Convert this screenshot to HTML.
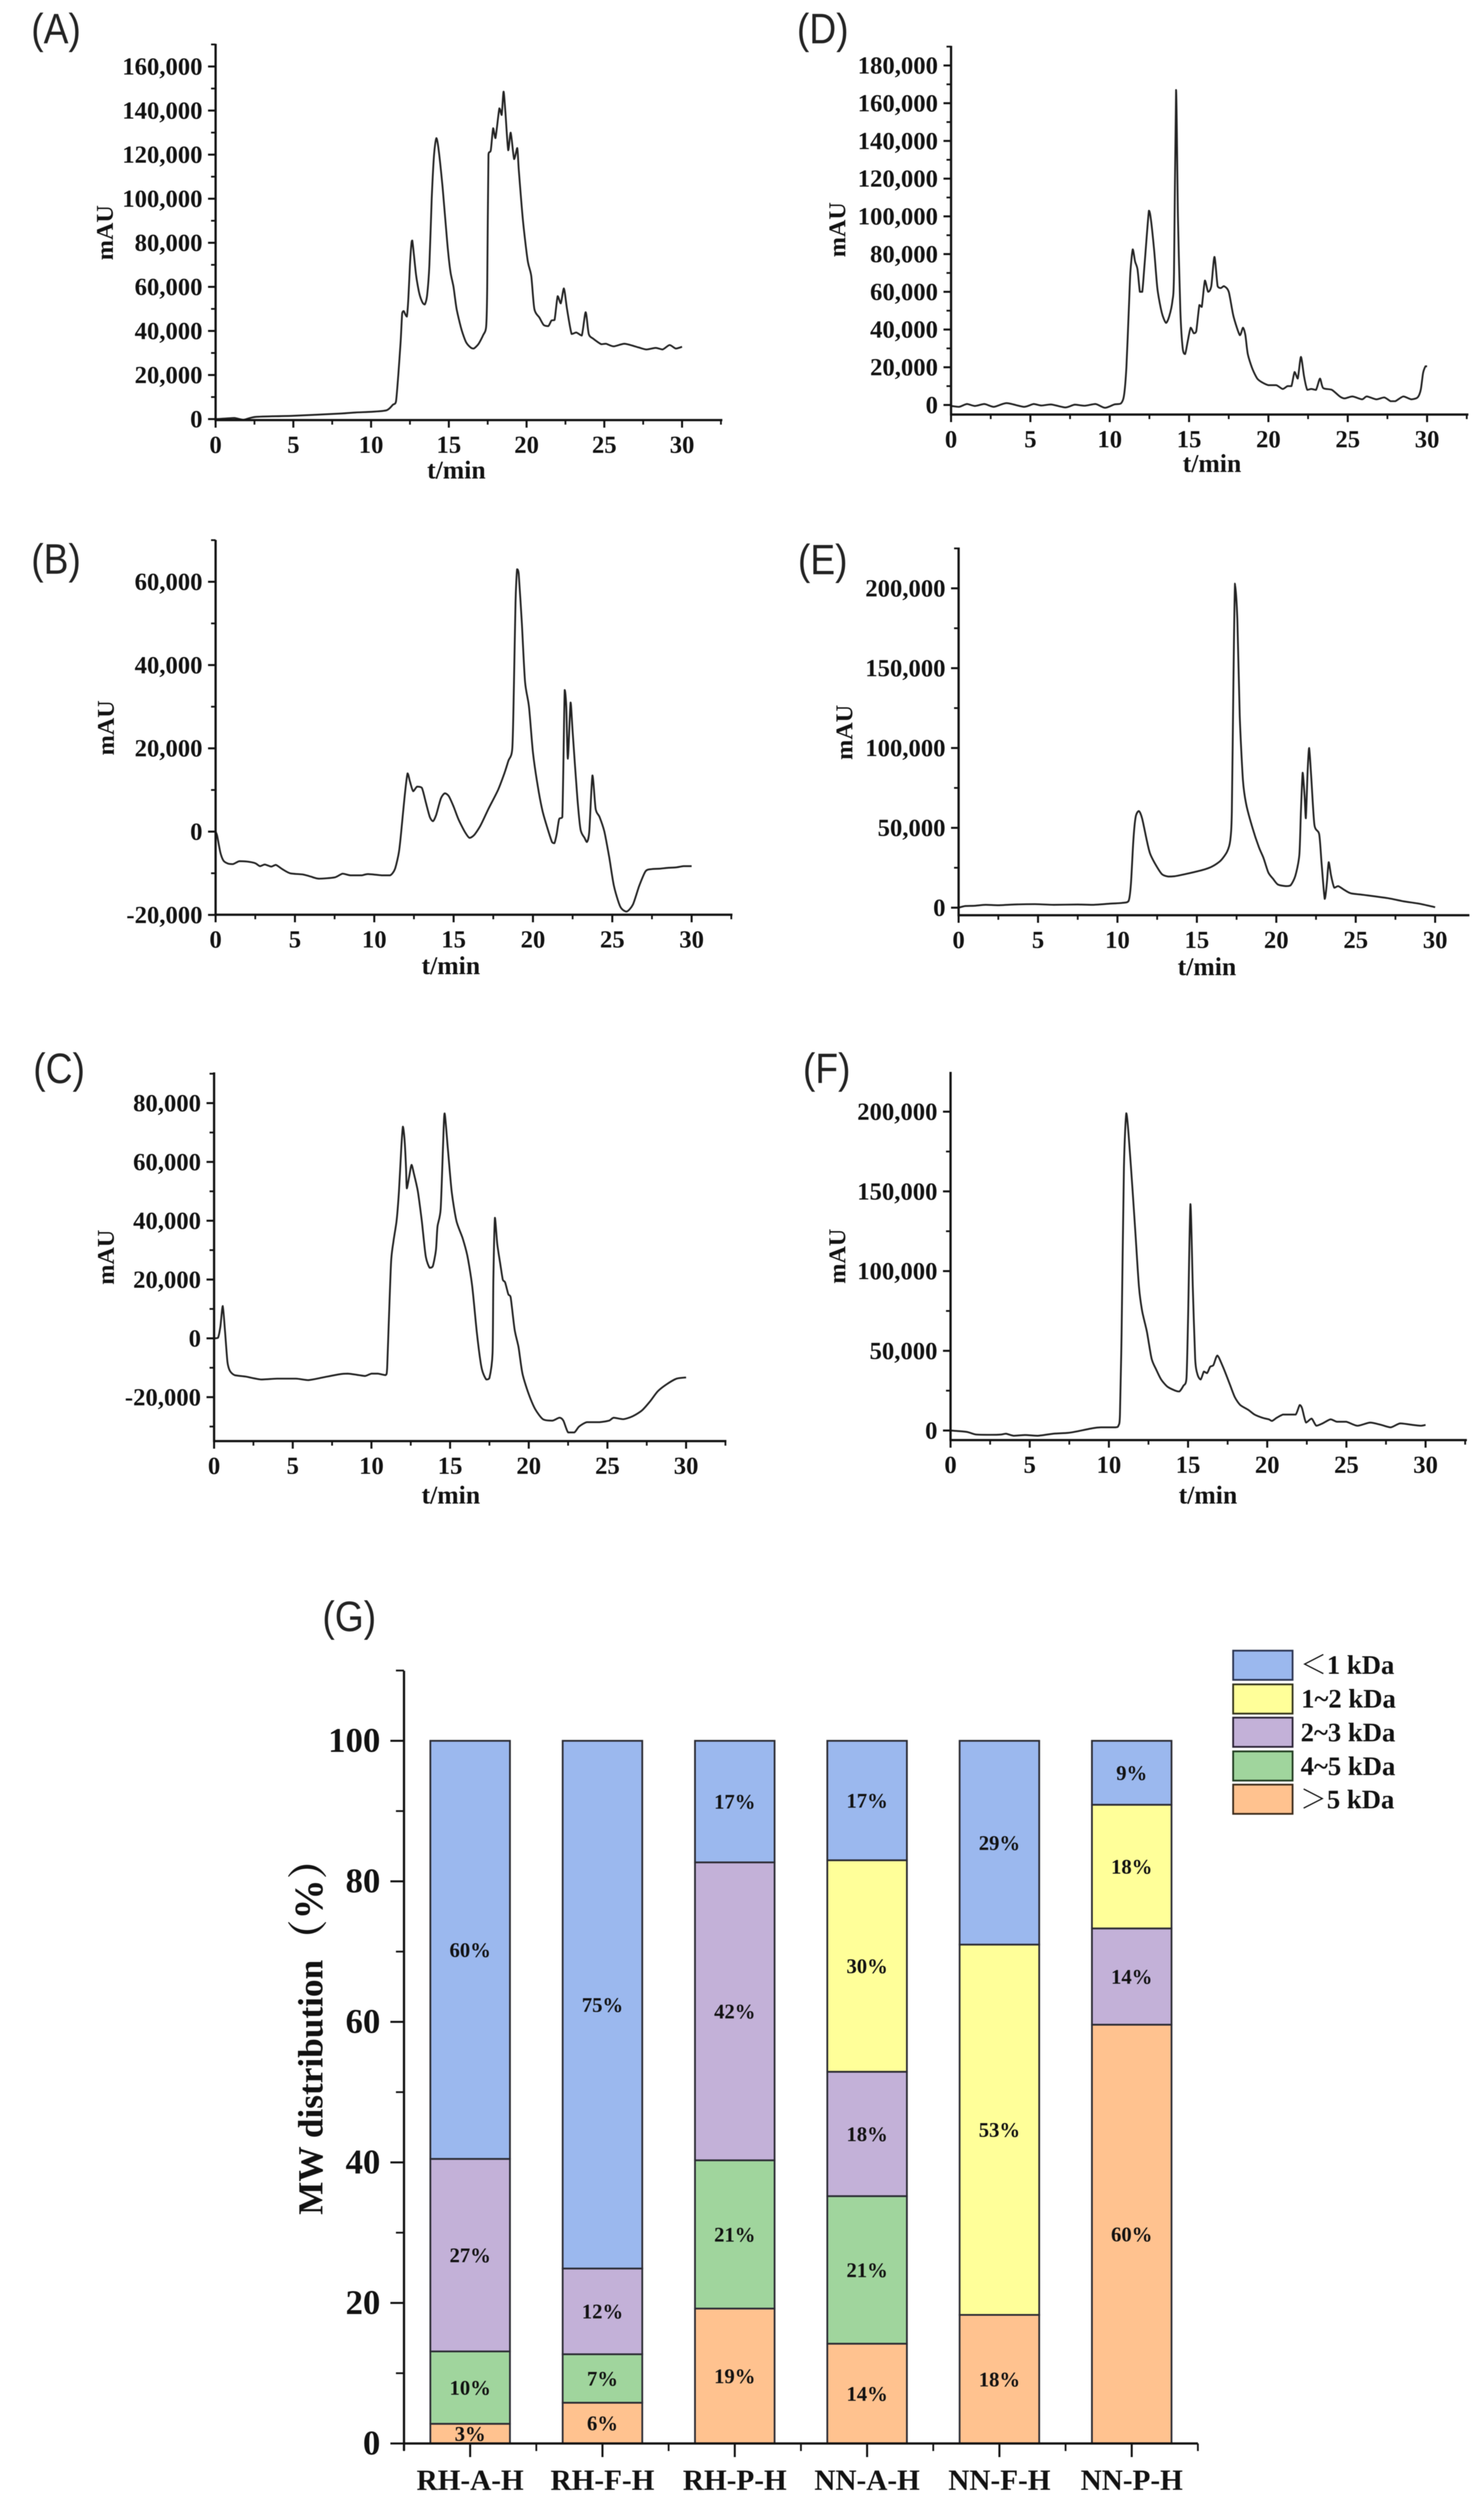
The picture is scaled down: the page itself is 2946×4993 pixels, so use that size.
<!DOCTYPE html>
<html lang="en">
<head>
<meta charset="utf-8">
<title>Chromatograms and MW distribution</title>
<style>
html,body{margin:0;padding:0;background:#fff;}
svg{display:block;}
text{font-family:"Liberation Serif","Noto Serif CJK SC",serif;font-weight:bold;fill:#111;}
.panel-letter{font-family:"Liberation Sans","Noto Sans CJK SC",sans-serif;font-weight:normal;font-size:84px;fill:#222;}
</style>
</head>
<body>
<svg id="figure" xmlns="http://www.w3.org/2000/svg" width="2946" height="4993" viewBox="0 0 2946 4993">
<rect x="0" y="0" width="2946" height="4993" fill="#fff"/>
<g id="root" style="filter:blur(0.8px)">
<text class="panel-letter" transform="translate(62,86) scale(0.88,1)">(A)</text>
<text class="panel-letter" transform="translate(1582,86) scale(0.88,1)">(D)</text>
<text class="panel-letter" transform="translate(62,1139) scale(0.88,1)">(B)</text>
<text class="panel-letter" transform="translate(1584,1140) scale(0.88,1)">(E)</text>
<text class="panel-letter" transform="translate(66,2150) scale(0.88,1)">(C)</text>
<text class="panel-letter" transform="translate(1594,2150) scale(0.88,1)">(F)</text>
<text class="panel-letter" transform="translate(640,3238) scale(0.88,1)">(G)</text>

<text x="906" y="950" font-size="51" text-anchor="middle">t/min</text>
<text x="2406" y="937" font-size="51" text-anchor="middle">t/min</text>
<text x="895" y="1934" font-size="51" text-anchor="middle">t/min</text>
<text x="2396" y="1936" font-size="51" text-anchor="middle">t/min</text>
<text x="895" y="2985" font-size="51" text-anchor="middle">t/min</text>
<text x="2398" y="2985" font-size="51" text-anchor="middle">t/min</text>

<text transform="translate(224,462) rotate(-90)" font-size="48" text-anchor="middle">mAU</text>
<text transform="translate(1678,456) rotate(-90)" font-size="48" text-anchor="middle">mAU</text>
<text transform="translate(226,1445) rotate(-90)" font-size="48" text-anchor="middle">mAU</text>
<text transform="translate(1692,1454) rotate(-90)" font-size="48" text-anchor="middle">mAU</text>
<text transform="translate(226,2496) rotate(-90)" font-size="48" text-anchor="middle">mAU</text>
<text transform="translate(1678,2494) rotate(-90)" font-size="48" text-anchor="middle">mAU</text>

<text transform="translate(640,4024) rotate(-90)" font-size="70" text-anchor="middle">MW distribution<tspan font-size="80">（%）</tspan></text>

<g>
<rect x="2448" y="3277" width="118" height="58" fill="#9BB8EE" stroke="#2a3350" stroke-width="3.5"/>
<text x="2581" y="3323" font-size="53">＜1 kDa</text>
<rect x="2448" y="3344" width="118" height="58" fill="#FFFF99" stroke="#33331a" stroke-width="3.5"/>
<text x="2583" y="3390" font-size="53">1~2 kDa</text>
<rect x="2448" y="3410" width="118" height="58" fill="#C3B1D8" stroke="#2a2235" stroke-width="3.5"/>
<text x="2582" y="3457" font-size="53">2~3 kDa</text>
<rect x="2448" y="3477" width="118" height="58" fill="#A0D59D" stroke="#1f3a1f" stroke-width="3.5"/>
<text x="2582" y="3524" font-size="53">4~5 kDa</text>
<rect x="2448" y="3543" width="118" height="58" fill="#FFC28F" stroke="#3a2a1a" stroke-width="3.5"/>
<text x="2581" y="3590" font-size="53">＞5 kDa</text>
</g>
</g>
</svg>
<script>
// Chromatogram data: retention time (min) and signal (thousands of mAU)
const panelATimes = [0,0.5,1.2,1.8,2.6,5,8,9,10,11,11.4,11.6,11.75,11.9,12,12.1,12.2,12.3,12.4,12.5,12.6,12.65,12.75,12.9,13.1,13.3,13.45,13.6,13.75,13.9,14.05,14.2,14.35,14.6,14.9,15.1,15.3,15.5,15.8,16.1,16.4,16.6,16.9,17.2,17.4,17.47,17.55,17.7,17.85,18,18.25,18.4,18.52,18.64,18.82,18.98,19.2,19.4,19.5,19.77,20.07,20.3,20.5,20.83,21.1,21.4,21.6,21.8,22,22.2,22.4,22.6,22.9,23.2,23.55,23.8,24,24.3,24.8,25.1,25.6,26.3,27.2,27.7,28.3,28.75,29.2,29.6,30];
const panelASignal = [0,0.2,0.5,-0.3,1,1.5,2.5,3,3.3,4,6.5,8,20,35,48,49,47.5,46.5,55,70,80,81,75,65,57,53,52,56,70,100,120,127.5,122,105,80,67,60,50,41,35,32.5,32,34,38,42,60,120,122,132,127.5,141,138,148.6,139,122,130,118,123,113,90,72,65,50,46,42.7,42.2,44.7,45,55.8,52.5,59.3,50,38.6,39.3,37.9,48.5,38.6,36.4,34,34.2,33,34.2,32.5,31.6,32.3,31.6,33.6,32,32.8];
const panelAYTicks = [0,20,40,60,80,100,120,140,160];

const panelDTimes = [0,0.5,1,1.5,2.1,2.7,3.5,4.6,5.2,5.7,6.3,7.2,7.8,8.4,9.1,9.7,10.3,10.7,10.9,11.05,11.2,11.3,11.45,11.6,11.75,11.9,12.05,12.2,12.47,12.6,12.8,13,13.2,13.35,13.55,13.75,13.95,14.05,14.18,14.3,14.45,14.6,14.75,14.9,15.1,15.3,15.45,15.65,15.8,16,16.2,16.4,16.6,16.8,17,17.2,17.5,17.8,18.2,18.4,18.55,18.7,19,19.3,19.6,20,20.5,20.9,21.2,21.45,21.65,21.85,22.05,22.25,22.45,22.7,23,23.25,23.45,24,24.5,24.8,25.3,25.9,26.2,26.8,27.3,27.7,28,28.5,29,29.4,29.6,29.75,29.9,30];
const panelDSignal = [-0.5,-1,0.5,-0.5,0.5,-1,1,-1,0.5,-0.3,0.3,-1.3,0.2,-0.4,0.5,-1.5,0.3,0.8,5,20,50,70,82.5,76,72,60,60,75,103,98,82,62,52,47,43.5,47,55,70,167,100,50,30,27,33,41,38,39,53,52,66,60,63,78.5,63,62,63,60,47,37,41,37,27,19,14,12,10.5,10.5,8.5,10,10,17.5,14,25.5,15,8,8.5,8,14,9,8,4.5,3.5,4.5,3,4.5,3,4,2,2,4.5,3,4,8,17,20.5,20.5];
const panelDYTicks = [0,20,40,60,80,100,120,140,160,180];

const panelBTimes = [0,0.1,0.3,0.5,0.8,1.1,1.5,2,2.5,2.8,3.1,3.5,3.8,4.2,4.7,5.5,6,6.5,7.5,8,8.5,9.2,9.6,10.5,11,11.3,11.55,11.7,11.9,12.1,12.25,12.45,12.7,13,13.25,13.5,13.7,13.9,14.2,14.45,14.7,15,15.3,15.7,16,16.3,16.7,17.2,17.8,18.2,18.45,18.7,18.8,18.9,19,19.1,19.3,19.5,19.75,20,20.3,20.6,20.9,21.2,21.35,21.5,21.65,21.85,22,22.1,22.2,22.37,22.5,22.8,23,23.25,23.4,23.55,23.75,23.95,24.2,24.5,24.8,25.1,25.5,25.9,26.3,26.7,27.1,27.5,28,28.5,29,29.5,30];
const panelBSignal = [0,-1,-5,-7,-7.7,-7.8,-7.1,-7.2,-7.6,-8.3,-7.9,-8.4,-8,-9,-10,-10.3,-10.8,-11.3,-11,-10.1,-10.5,-10.5,-10.2,-10.5,-10.5,-9,-5,0,8,14,12,9.7,10.8,10.5,7,3.5,2.5,4,8,9.2,8.5,6,3,0,-1.5,-0.8,1.5,5.5,10,14,17,20,35,55,63,62,50,36,30,19,11,5,1,-2.5,-2.8,-0.5,3,3.5,34,30,17.5,31,24,8,0.5,-1.5,-2.5,0,13.5,5.5,3.5,0,-6,-13,-18,-19.2,-17.5,-13,-9.5,-9,-8.9,-8.7,-8.6,-8.3,-8.3];
const panelBYTicks = [-20,0,20,40,60];

const panelETimes = [0,0.4,1,1.7,2.5,3.5,4.8,6,7.5,8.5,9.5,10.3,10.7,10.85,11,11.15,11.35,11.55,11.85,12.05,12.4,12.8,13.2,13.6,14.5,15.5,16,16.5,16.9,17.1,17.2,17.3,17.4,17.55,17.7,17.9,18.1,18.5,18.9,19.2,19.5,19.8,20.1,20.6,20.9,21.2,21.45,21.55,21.66,21.78,21.86,21.97,22.07,22.2,22.4,22.7,22.85,23.05,23.18,23.3,23.45,23.65,23.9,24.3,24.7,25.5,27,28,29,30];
const panelESignal = [0,1,1.2,1.8,1.5,2,2.2,1.8,2,1.8,2.5,3,4.2,15,42,57,60.5,56,42,34,27,21,19.5,19.7,21.5,24,26,29.5,35,42,60,140,203,180,120,80,65,50,38,31,22,18,14.5,13.5,14,20,33,60,84.5,70,56,85,100,82,52,46,28,5.5,15,28.5,20,12.5,13.5,11,9,8,6,4,2.5,0.3];
const panelEYTicks = [0,50,100,150,200];

const panelCTimes = [0,0.25,0.4,0.55,0.7,0.85,1,1.3,2,3,4,5.2,6,7,8,8.5,9.2,9.6,10,10.4,10.9,11,11.1,11.25,11.4,11.6,11.75,11.9,12,12.1,12.2,12.25,12.4,12.55,12.7,12.95,13.2,13.45,13.7,13.9,14.1,14.2,14.4,14.55,14.65,14.85,15.1,15.4,15.8,16.1,16.4,16.7,17,17.3,17.5,17.7,17.75,17.85,18,18.2,18.35,18.5,18.7,18.85,19.1,19.35,19.6,20,20.4,20.9,21.5,21.95,22.2,22.5,22.9,23.2,23.7,24.5,25.1,25.4,26,26.6,27.2,27.7,28.2,28.8,29.4,30];
const panelCSignal = [0,0.2,4,11,2,-8,-11,-12.5,-13,-14,-13.7,-13.7,-14.2,-13.2,-12.2,-12,-12.5,-12.8,-12,-12,-12.5,-10,5,26,33,40,50,65,72,68,58,51,55,59,56,50,40,28,24,24.5,30,38,44,65,76.5,65,50,40,34,28,18,2,-10,-14,-13.5,-5,20,41,32,25,20,19,15,14,3,-3,-12,-19,-24,-27.5,-28,-27,-28,-32,-32,-30,-28.5,-28.5,-28,-27,-27.5,-26.5,-24.5,-21.5,-18,-15.5,-13.7,-13.3];
const panelCYTicks = [-20,0,20,40,60,80];

const panelFTimes = [0,0.7,1.1,1.6,2.5,3.2,3.5,4,4.7,5.5,6.5,7.4,8,9,9.5,10.4,10.6,10.7,10.8,10.95,11.1,11.25,11.5,11.7,11.9,12.1,12.4,12.7,13,13.3,13.7,14.2,14.45,14.7,14.9,15,15.15,15.3,15.45,15.6,15.8,16,16.2,16.4,16.6,16.85,17.2,17.6,17.95,18.3,18.8,19.2,19.7,20.1,20.3,20.6,21,21.4,21.8,22.05,22.2,22.45,22.8,23.1,23.5,24,24.4,25,25.7,26.5,27.2,27.8,28.4,29.2,29.7,30];
const panelFSignal = [0,-0.5,-1,-2.5,-2.7,-2.5,-2,-3.3,-2.8,-3.3,-2,-1.5,-0.5,1.5,2,2,3,10,60,165,199,185,150,120,90,75,62,45,38,32,27.5,25,24.5,28,33,70,142,90,45,35,32,37,36,40,41,47,40,30,21,16,13,10,8,7,6,8,10,10,10,16,14,5,7.5,3,4.5,7,5.5,5.5,3,5,3.5,2,4.5,3.5,3,3.5];
const panelFYTicks = [0,50,100,150,200];

const xTicks = [0,5,10,15,20,25,30];

// Stacked bar data (percent)
const barCategories = ['RH-A-H','RH-F-H','RH-P-H','NN-A-H','NN-F-H','NN-P-H'];
const seriesOver5 = [2.8,5.8,19.2,14.2,18.3,59.6];
const series4to5 = [10.3,6.9,21.1,21,0,0];
const series2to3 = [27.4,12.2,42.4,17.7,0,13.7];
const series1to2 = [0,0,0,30.1,52.7,17.6];
const seriesUnder1 = [59.5,75.1,17.3,17,29,9.1];
const barYTicks = [0,20,40,60,80,100];
const barYMinorTicks = [10,30,50,70,90,110];

const NS = 'http://www.w3.org/2000/svg';
const root = document.getElementById('root');

function make(tag, parent, name, props) {
  const el = document.createElementNS(NS, tag);
  for (const k in props) el.setAttribute(k, props[k]);
  
  
  parent.appendChild(el);
  return el;
}

function linear(d0, d1, r0, r1) {
  return function (v) { return r0 + (v - d0) * (r1 - r0) / (d1 - d0); };
}

// Smooth path through the points, with control points clamped so peaks do not overshoot
function smoothPath(px, py) {
  let d = 'M' + px[0].toFixed(1) + ' ' + py[0].toFixed(1);
  const k = 0.75 / 6;
  for (let i = 0; i < px.length - 1; i++) {
    const a = Math.max(i - 1, 0), b = Math.min(i + 2, px.length - 1);
    const lo = Math.min(py[i], py[i + 1]), hi = Math.max(py[i], py[i + 1]);
    const c1x = px[i] + (px[i + 1] - px[a]) * k;
    const c1y = Math.min(hi, Math.max(lo, py[i] + (py[i + 1] - py[a]) * k));
    const c2x = px[i + 1] - (px[b] - px[i]) * k;
    const c2y = Math.min(hi, Math.max(lo, py[i + 1] - (py[b] - py[i]) * k));
    d += 'C' + c1x.toFixed(1) + ' ' + c1y.toFixed(1) + ' ' + c2x.toFixed(1) + ' ' + c2y.toFixed(1) + ' ' + px[i + 1].toFixed(1) + ' ' + py[i + 1].toFixed(1);
  }
  return d;
}

function drawPanel(key, times, signal, yTicks, g) {
  const panel = make('g', root, 'panel-' + key, {});
  const xScale = linear(0, 30, g.x0, g.x30);
  const yScale = linear(g.vA, g.vB, g.pA, g.pB);

  // curve
  const d = smoothPath(times.map(xScale), signal.map(yScale));
  make('path', panel, 'panel-' + key + '-chromatogram-line', {d: d, fill: 'none', stroke: '#222', 'stroke-width': 3.6, 'stroke-linejoin': 'round'});

  // axes
  make('line', panel, 'panel-' + key + '-y-axis', {x1: g.x0, x2: g.x0, y1: g.top, y2: g.bottom + 2, stroke: '#111', 'stroke-width': 4.5});
  make('line', panel, 'panel-' + key + '-x-axis', {x1: g.x0 - 2, x2: g.right, y1: g.bottom, y2: g.bottom, stroke: '#111', 'stroke-width': 4.5});

  // x ticks
  xTicks.forEach(function (t) {
    const x = xScale(t);
    make('line', panel, 'panel-' + key + '-x-tick', {x1: x, x2: x, y1: g.bottom, y2: g.bottom + 15, stroke: '#111', 'stroke-width': 4});
    const lab = make('text', panel, 'panel-' + key + '-x-tick-label', {x: x, y: g.bottom + 65, 'font-size': 49, 'text-anchor': 'middle'});
    lab.textContent = String(t);
    const mx = xScale(t + 2.5);
    if (mx <= g.right) make('line', panel, 'panel-' + key + '-x-minor-tick', {x1: mx, x2: mx, y1: g.bottom, y2: g.bottom + 9, stroke: '#111', 'stroke-width': 3.5});
  });

  // y ticks
  const step = yTicks[1] - yTicks[0];
  yTicks.forEach(function (v) {
    const y = yScale(v);
    make('line', panel, 'panel-' + key + '-y-tick', {x1: g.x0 - 15, x2: g.x0, y1: y, y2: y, stroke: '#111', 'stroke-width': 4});
    const lab = make('text', panel, 'panel-' + key + '-y-tick-label', {x: g.x0 - 26, y: y + 16, 'font-size': 49, 'text-anchor': 'end'});
    lab.textContent = (v * 1000).toLocaleString('en-US');
    [v - step / 2, v + step / 2].forEach(function (m) {
      const my = yScale(m);
      if (my >= g.top && my <= g.bottom && (m > v || v === yTicks[0])) {
        make('line', panel, 'panel-' + key + '-y-minor-tick', {x1: g.x0 - 9, x2: g.x0, y1: my, y2: my, stroke: '#111', 'stroke-width': 3.5});
      }
    });
  });
}

drawPanel('a', panelATimes, panelASignal, panelAYTicks, {x0: 428, x30: 1354, vA: 0, vB: 160, pA: 832, pB: 132, top: 87, bottom: 834, right: 1434});
drawPanel('d', panelDTimes, panelDSignal, panelDYTicks, {x0: 1888, x30: 2833, vA: 0, vB: 180, pA: 804, pB: 130, top: 91, bottom: 823, right: 2915});
drawPanel('b', panelBTimes, panelBSignal, panelBYTicks, {x0: 428, x30: 1373, vA: 0, vB: 60, pA: 1651, pB: 1155, top: 1072, bottom: 1816, right: 1454});
drawPanel('e', panelETimes, panelESignal, panelEYTicks, {x0: 1903, x30: 2849, vA: 0, vB: 200, pA: 1802, pB: 1168, top: 1087, bottom: 1817, right: 2917});
drawPanel('c', panelCTimes, panelCSignal, panelCYTicks, {x0: 425, x30: 1362, vA: 0, vB: 80, pA: 2657, pB: 2190, top: 2129, bottom: 2861, right: 1442});
drawPanel('f', panelFTimes, panelFSignal, panelFYTicks, {x0: 1887, x30: 2830, vA: 0, vB: 200, pA: 2840, pB: 2207, top: 2128, bottom: 2859, right: 2912});

// Stacked bars
(function () {
  const chart = make('g', root, 'stacked-bar-chart', {});
  const left = 802, right = 2378, zeroPx = 4851, hundredPx = 3456, topPx = 3317;
  const y = linear(0, 100, zeroPx, hundredPx);
  const band = (right - left) / barCategories.length;
  const barWidth = 158;
  const stack = [
    {name: 'over-5-kda', values: seriesOver5, color: '#FFC28F'},
    {name: '4-5-kda', values: series4to5, color: '#A0D59D'},
    {name: '2-3-kda', values: series2to3, color: '#C3B1D8'},
    {name: '1-2-kda', values: series1to2, color: '#FFFF99'},
    {name: 'under-1-kda', values: seriesUnder1, color: '#9BB8EE'}
  ];
  barCategories.forEach(function (cat, i) {
    const cx = left + band * (i + 0.5);
    let base = 0;
    stack.forEach(function (s) {
      const v = s.values[i];
      if (v <= 0) return;
      const y1 = y(base + v), y0 = y(base);
      make('rect', chart, 'bar-' + cat.toLowerCase() + '-' + s.name, {x: cx - barWidth / 2, y: y1, width: barWidth, height: y0 - y1, fill: s.color, stroke: '#2b2b33', 'stroke-width': 3.5});
      const lab = make('text', chart, 'bar-value-label', {x: cx, y: (y0 + y1) / 2 + 14, 'font-size': 41, 'text-anchor': 'middle'});
      lab.textContent = Math.round(v) + '%';
      base += v;
    });
    make('line', chart, 'bar-x-tick', {x1: cx, x2: cx, y1: zeroPx, y2: zeroPx + 27, stroke: '#111', 'stroke-width': 4});
    const cl = make('text', chart, 'bar-category-label', {x: cx, y: 4943, 'font-size': 58, 'text-anchor': 'middle'});
    cl.textContent = cat;
    make('line', chart, 'bar-x-minor-tick', {x1: left + band * i, x2: left + band * i, y1: zeroPx, y2: zeroPx + 15, stroke: '#111', 'stroke-width': 3.5});
  });
  make('line', chart, 'bar-x-minor-tick', {x1: right, x2: right, y1: zeroPx, y2: zeroPx + 15, stroke: '#111', 'stroke-width': 3.5});
  make('line', chart, 'bar-y-axis', {x1: left, x2: left, y1: topPx, y2: zeroPx + 14, stroke: '#111', 'stroke-width': 4.5});
  make('line', chart, 'bar-x-axis', {x1: left - 2, x2: right, y1: zeroPx, y2: zeroPx, stroke: '#111', 'stroke-width': 4.5});
  barYTicks.forEach(function (v) {
    make('line', chart, 'bar-y-tick', {x1: left - 27, x2: left, y1: y(v), y2: y(v), stroke: '#111', 'stroke-width': 4});
    const lab = make('text', chart, 'bar-y-tick-label', {x: 755, y: y(v) + 22, 'font-size': 69, 'text-anchor': 'end'});
    lab.textContent = String(v);
  });
  barYMinorTicks.forEach(function (v) {
    make('line', chart, 'bar-y-minor-tick', {x1: left - 16, x2: left, y1: y(v), y2: y(v), stroke: '#111', 'stroke-width': 3.5});
  });
})();
</script>
</body>
</html>
